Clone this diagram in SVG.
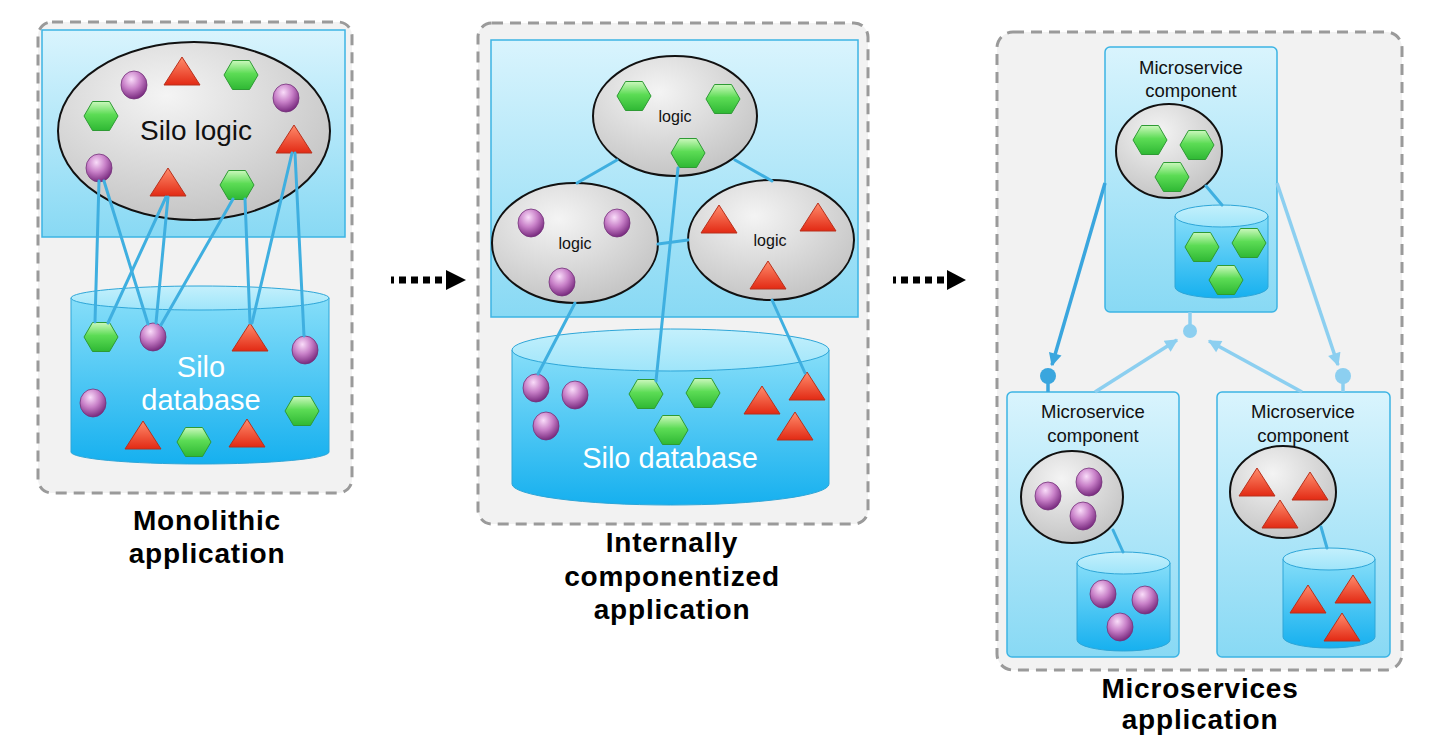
<svg xmlns="http://www.w3.org/2000/svg" xmlns:xlink="http://www.w3.org/1999/xlink" width="1436" height="752" viewBox="0 0 1436 752">
<style>
.panel{fill:#f2f2f2;stroke:#9a9a9a;stroke-width:3;stroke-dasharray:11 7}
.blue{fill:url(#gPanel);stroke:#3cb4e4;stroke-width:1.5}
.logic{fill:url(#gLogic);stroke:#111;stroke-width:2}
.cylBody{fill:url(#gCyl);stroke:#2ea6d8;stroke-width:1}
.cylTop{fill:url(#gCylTop);stroke:#2ea6d8;stroke-width:1}
.conn{stroke:#3fafe0;stroke-width:3;fill:none;stroke-linecap:round}
.svc{stroke-width:3.5;fill:none}
.dark{stroke:#3aa6de}
.light{stroke:#8ccff0}
.title{font-family:"Liberation Sans",Arial,sans-serif;font-weight:bold;font-size:28px;letter-spacing:0.8px;fill:#000;text-anchor:middle}
.txt{font-family:"Liberation Sans",Arial,sans-serif;text-anchor:middle}
</style>
<defs>
<linearGradient id="gPanel" x1="0" y1="0" x2="0" y2="1"><stop offset="0" stop-color="#d9f4fd"/><stop offset="1" stop-color="#88d9f4"/></linearGradient>
<radialGradient id="gLogic" cx="0.4" cy="0.3" r="0.75"><stop offset="0" stop-color="#f4f4f4"/><stop offset="1" stop-color="#c2c2c2"/></radialGradient>
<linearGradient id="gCyl" x1="0" y1="0" x2="0" y2="1"><stop offset="0" stop-color="#86def9"/><stop offset="1" stop-color="#16b0ef"/></linearGradient>
<linearGradient id="gCylTop" x1="0" y1="0" x2="0" y2="1"><stop offset="0" stop-color="#c4f0fc"/><stop offset="1" stop-color="#9fe5fa"/></linearGradient>
<radialGradient id="gBall" cx="0.4" cy="0.3" r="0.7"><stop offset="0" stop-color="#f9dcf9"/><stop offset="0.5" stop-color="#c880c8"/><stop offset="1" stop-color="#7a2c80"/></radialGradient>
<linearGradient id="gTri" x1="0" y1="0" x2="0" y2="1"><stop offset="0" stop-color="#ff8c6c"/><stop offset="1" stop-color="#e22a14"/></linearGradient>
<linearGradient id="gHex" x1="0" y1="0" x2="0" y2="1"><stop offset="0" stop-color="#ccf8bd"/><stop offset="0.45" stop-color="#5cdc55"/><stop offset="1" stop-color="#2fb834"/></linearGradient>
<g id="hex"><polygon points="-17,0 -8.5,-14.5 8.5,-14.5 17,0 8.5,14.5 -8.5,14.5" fill="url(#gHex)" stroke="#2e9a34" stroke-width="1"/></g>
<g id="tri"><polygon points="0,-15 18,13 -18,13" fill="url(#gTri)" stroke="#b8301c" stroke-width="1"/></g>
<g id="ball"><ellipse rx="13" ry="14" fill="url(#gBall)" stroke="#74327a" stroke-width="0.8"/></g>
<marker id="mDark" viewBox="0 0 10 10" refX="9" refY="5" markerWidth="15" markerHeight="13" markerUnits="userSpaceOnUse" orient="auto"><path d="M0,0 L10,5 L0,10 z" fill="#3aa6de"/></marker>
<marker id="mLight" viewBox="0 0 10 10" refX="9" refY="5" markerWidth="15" markerHeight="13" markerUnits="userSpaceOnUse" orient="auto"><path d="M0,0 L10,5 L0,10 z" fill="#8ccff0"/></marker>
</defs>

<!-- Panel 1: Monolithic -->
<g id="monolithic-panel">
<rect class="panel" x="38" y="22" width="314" height="471" rx="14"/>
<rect class="blue" x="42" y="30" width="303" height="207"/>
</g>
<g id="silo-logic">
<ellipse class="logic" cx="194" cy="131" rx="136" ry="89"/>
<text class="txt" x="196" y="140" font-size="28" fill="#111">Silo logic</text>
<use href="#ball" x="134" y="85"/>
<use href="#tri" x="182" y="72"/>
<use href="#hex" x="241" y="75"/>
<use href="#ball" x="286" y="98"/>
<use href="#hex" x="101" y="116"/>
<use href="#tri" x="294" y="140"/>
<use href="#ball" x="99" y="168"/>
<use href="#tri" x="168" y="183"/>
<use href="#hex" x="237" y="185"/>
</g>
<g id="silo-database-1">
<path class="cylBody" d="M71,298 V452 A129,12 0 0 0 329,452 V298 Z"/>
<ellipse class="cylTop" cx="200" cy="298" rx="129" ry="12"/>
<text class="txt" x="201" y="377" font-size="29" fill="#fff">Silo</text>
<text class="txt" x="201" y="410" font-size="29" fill="#fff">database</text>
<use href="#hex" x="101" y="337"/>
<use href="#ball" x="153" y="337"/>
<use href="#tri" x="250" y="338"/>
<use href="#ball" x="305" y="350"/>
<use href="#ball" x="93" y="403"/>
<use href="#hex" x="302" y="411"/>
<use href="#tri" x="143" y="436"/>
<use href="#hex" x="194" y="442"/>
<use href="#tri" x="247" y="434"/>
</g>
<text class="title" x="207" y="530">Monolithic</text>
<text class="title" x="207" y="563">application</text>

<!-- Panel 2: Internally componentized -->
<g id="componentized-panel">
<rect class="panel" x="478" y="23" width="390" height="501" rx="14"/>
<rect class="blue" x="491" y="40" width="367" height="277"/>
</g>
<g id="logic-green">
<ellipse class="logic" cx="675" cy="116" rx="82" ry="60"/>
<text class="txt" x="675" y="122" font-size="16" fill="#111">logic</text>
<use href="#hex" x="634" y="96"/>
<use href="#hex" x="723" y="99"/>
<use href="#hex" x="688" y="153"/>
</g>
<g id="logic-purple">
<ellipse class="logic" cx="575" cy="243" rx="83" ry="60"/>
<text class="txt" x="575" y="249" font-size="16" fill="#111">logic</text>
<use href="#ball" x="531" y="223"/>
<use href="#ball" x="617" y="223"/>
<use href="#ball" x="562" y="282"/>
</g>
<g id="logic-red">
<ellipse class="logic" cx="771" cy="240" rx="83" ry="60"/>
<text class="txt" x="770" y="246" font-size="16" fill="#111">logic</text>
<use href="#tri" x="719" y="220"/>
<use href="#tri" x="818" y="218"/>
<use href="#tri" x="768" y="276"/>
</g>
<g id="silo-database-2">
<path class="cylBody" d="M512,350 V484 A158.5,21 0 0 0 829,484 V350 Z"/>
<ellipse class="cylTop" cx="670.5" cy="350" rx="158.5" ry="21"/>
<text class="txt" x="670" y="468" font-size="29" fill="#fff">Silo database</text>
<use href="#ball" x="536" y="388"/>
<use href="#ball" x="575" y="395"/>
<use href="#ball" x="546" y="426"/>
<use href="#hex" x="646" y="394"/>
<use href="#hex" x="703" y="393"/>
<use href="#hex" x="671" y="430"/>
<use href="#tri" x="762" y="401"/>
<use href="#tri" x="807" y="387"/>
<use href="#tri" x="795" y="427"/>
</g>
<text class="title" x="672" y="552">Internally</text>
<text class="title" x="672" y="586">componentized</text>
<text class="title" x="672" y="619">application</text>

<!-- Panel 3: Microservices -->
<g id="microservices-panel">
<rect class="panel" x="997" y="32" width="405" height="638" rx="16"/>
</g>
<g id="service-green">
<rect class="blue" x="1105" y="47" width="172" height="265" rx="5"/>
<text class="txt" x="1191" y="74" font-size="18.5" fill="#111">Microservice</text>
<text class="txt" x="1191" y="97" font-size="18.5" fill="#111">component</text>
<ellipse class="logic" cx="1169" cy="151" rx="53" ry="47"/>
<use href="#hex" x="1150" y="140"/>
<use href="#hex" x="1197" y="145"/>
<use href="#hex" x="1172" y="177"/>
<path class="cylBody" d="M1175,216 V287 A46.5,11 0 0 0 1268,287 V216 Z"/>
<ellipse class="cylTop" cx="1221.5" cy="216" rx="46.5" ry="11"/>
<use href="#hex" x="1202" y="247"/>
<use href="#hex" x="1249" y="243"/>
<use href="#hex" x="1226" y="280"/>
</g>
<g id="service-purple">
<rect class="blue" x="1007" y="392" width="172" height="265" rx="5"/>
<text class="txt" x="1093" y="418" font-size="18.5" fill="#111">Microservice</text>
<text class="txt" x="1093" y="442" font-size="18.5" fill="#111">component</text>
<ellipse class="logic" cx="1072" cy="497" rx="51" ry="46"/>
<use href="#ball" x="1048" y="496"/>
<use href="#ball" x="1089" y="482"/>
<use href="#ball" x="1083" y="516"/>
<path class="cylBody" d="M1077,563 V640 A46.5,11 0 0 0 1170,640 V563 Z"/>
<ellipse class="cylTop" cx="1123.5" cy="563" rx="46.5" ry="11"/>
<use href="#ball" x="1103" y="594"/>
<use href="#ball" x="1145" y="600"/>
<use href="#ball" x="1120" y="627"/>
</g>
<g id="service-red">
<rect class="blue" x="1217" y="392" width="173" height="265" rx="5"/>
<text class="txt" x="1303" y="418" font-size="18.5" fill="#111">Microservice</text>
<text class="txt" x="1303" y="442" font-size="18.5" fill="#111">component</text>
<ellipse class="logic" cx="1283" cy="492" rx="53" ry="46"/>
<use href="#tri" x="1257" y="483"/>
<use href="#tri" x="1310" y="487"/>
<use href="#tri" x="1280" y="515"/>
<path class="cylBody" d="M1283,559 V637 A46,11 0 0 0 1375,637 V559 Z"/>
<ellipse class="cylTop" cx="1329" cy="559" rx="46" ry="11"/>
<use href="#tri" x="1308" y="600"/>
<use href="#tri" x="1353" y="590"/>
<use href="#tri" x="1342" y="628"/>
</g>
<text class="title" x="1200" y="698">Microservices</text>
<text class="title" x="1200" y="729">application</text>

<!-- Connectors -->
<g id="connectors">
<!-- monolithic -->
<line class="conn" x1="99" y1="181" x2="95" y2="322"/>
<line class="conn" x1="104" y1="181" x2="148" y2="324"/>
<line class="conn" x1="166" y1="197" x2="108" y2="323"/>
<line class="conn" x1="168" y1="197" x2="156" y2="323"/>
<line class="conn" x1="233" y1="199" x2="161" y2="325"/>
<line class="conn" x1="245" y1="199" x2="250" y2="323"/>
<line class="conn" x1="292" y1="153" x2="252" y2="323"/>
<line class="conn" x1="295" y1="153" x2="304" y2="336"/>
<!-- componentized -->
<line class="conn" x1="617" y1="160" x2="577" y2="183"/>
<line class="conn" x1="735" y1="160" x2="772" y2="181"/>
<line class="conn" x1="658" y1="244" x2="688" y2="240"/>
<line class="conn" x1="678" y1="168" x2="656" y2="381"/>
<line class="conn" x1="575" y1="303" x2="538" y2="374"/>
<line class="conn" x1="772" y1="300" x2="805" y2="373"/>
<!-- microservice internals -->
<line class="conn" x1="1206" y1="186" x2="1222" y2="205"/>
<line class="conn" x1="1113" y1="530" x2="1123" y2="552"/>
<line class="conn" x1="1321" y1="527" x2="1327" y2="548"/>
<!-- microservice interactions -->
<line class="svc light" x1="1190" y1="312" x2="1190" y2="325"/>
<circle cx="1190" cy="331" r="7" fill="#8ccff0"/>
<line class="svc dark" x1="1105" y1="183" x2="1052" y2="365" marker-end="url(#mDark)"/>
<circle cx="1048" cy="376" r="8" fill="#3aa6de"/>
<line class="svc dark" x1="1048" y1="376" x2="1048" y2="392"/>
<line class="svc light" x1="1277" y1="183" x2="1338" y2="365" marker-end="url(#mLight)"/>
<circle cx="1343" cy="376" r="8" fill="#8ccff0"/>
<line class="svc light" x1="1343" y1="376" x2="1343" y2="392"/>
<line class="svc light" x1="1095" y1="392" x2="1177" y2="340" marker-end="url(#mLight)"/>
<line class="svc light" x1="1302" y1="392" x2="1209" y2="341" marker-end="url(#mLight)"/>
</g>

<!-- Transition arrows -->
<g id="transition-arrows">
<line x1="391" y1="280" x2="446" y2="280" stroke="#000" stroke-width="7" stroke-dasharray="3 5 7 5 7 5 7 5 7 5"/>
<polygon points="446,270 466,280 446,290" fill="#000"/>
<line x1="893" y1="280" x2="947" y2="280" stroke="#000" stroke-width="7" stroke-dasharray="3 5 7 5 7 5 7 5 7 5"/>
<polygon points="947,270 966,280 947,290" fill="#000"/>
</g>
</svg>
